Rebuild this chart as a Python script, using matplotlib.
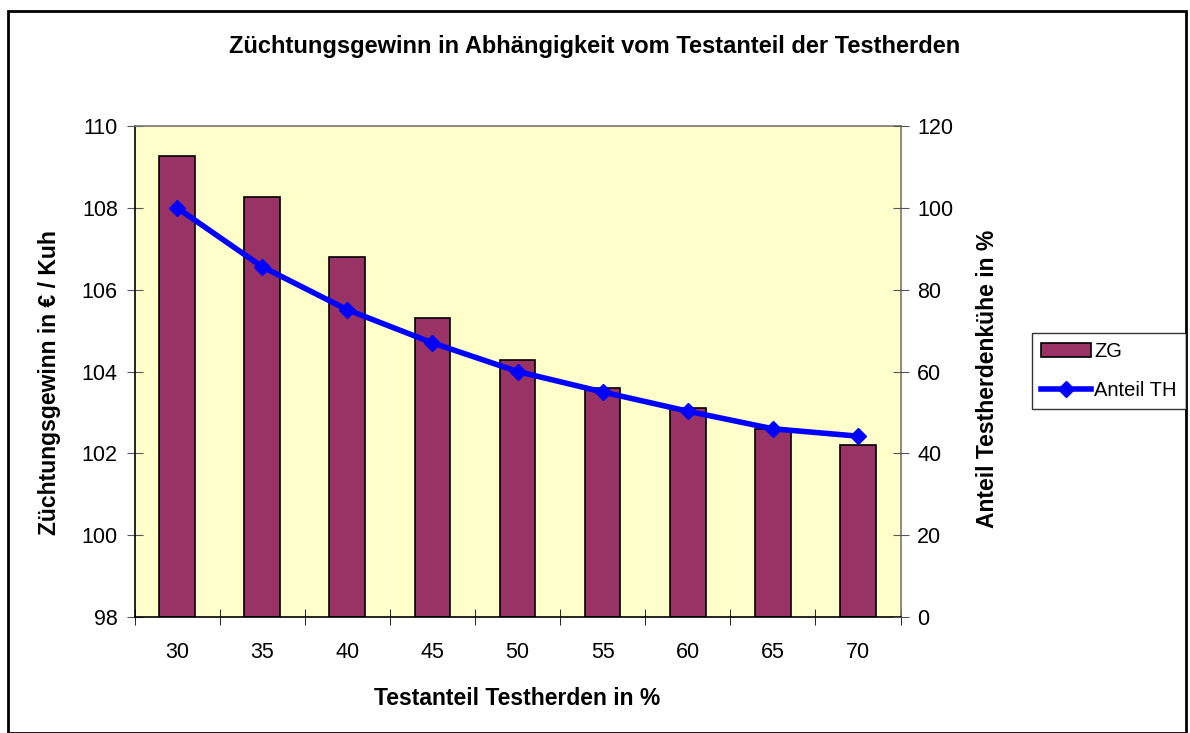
import numpy as np
import matplotlib.pyplot as plt
from matplotlib.patches import Rectangle

plt.rcParams['font.family'] = ['Liberation Sans', 'DejaVu Sans']

# Daten
testanteil = ['30', '35', '40', '45', '50', '55', '60', '65', '70']
zg = [109.27, 108.27, 106.8, 105.3, 104.28, 103.6, 103.12, 102.6, 102.2]
anteil_th = [100, 85.6, 75.1, 67, 60, 55, 50.3, 46, 44.2]

fig = plt.figure(figsize=(11.9, 7.33), dpi=100)
fig.patches.append(Rectangle((8 / 1190, 0), 1178 / 1190, 722 / 733, transform=fig.transFigure,
                             fill=False, edgecolor='black', linewidth=2))

ax = fig.add_axes([134.5 / 1190, 116 / 733, 766 / 1190, 491 / 733])
ax.set_facecolor('#ffffcc')
x = np.arange(len(testanteil))
bars = ax.bar(x, [v - 98 for v in zg], bottom=98, width=0.42, color='#993366',
              edgecolor='black', linewidth=1.2, label='ZG', zorder=2)
ax.set_xlim(-0.5, len(testanteil) - 0.5)
ax.set_ylim(98, 110)
ax.set_yticks(np.arange(98, 111, 2))
ax.set_xticks(x)
ax.set_xticklabels(testanteil)
ax.set_xticks(np.arange(-0.5, len(testanteil), 1), minor=True)
ax.tick_params(axis='x', which='major', length=0, pad=18, labelsize=15.5)
ax.tick_params(axis='x', which='minor', direction='inout', length=12, color='black')
ax.tick_params(axis='y', direction='inout', length=12, color='#555555', labelsize=15.5, pad=6)
ax.spines['top'].set_color('#777777')
ax.spines['right'].set_color('#777777')
for s in ax.spines.values():
    s.set_linewidth(1.2)
ax.set_xlabel('Testanteil Testherden in %', fontsize=16.5, fontweight='bold', labelpad=17)
ax.set_ylabel('Züchtungsgewinn in € / Kuh', fontsize=16.5, fontweight='bold', labelpad=15)
ax.yaxis.label.set_y(0.478)

ax2 = ax.twinx()
line, = ax2.plot(x, anteil_th, color='#0000ff', linewidth=4, marker='D', markersize=8.5,
                 label='Anteil TH', zorder=3)
ax2.set_ylim(0, 120)
ax2.set_yticks(np.arange(0, 121, 20))
ax2.tick_params(axis='y', direction='inout', length=12, color='#555555', labelsize=15.5, pad=6)
ax2.set_ylabel('Anteil Testherdenkühe in %', fontsize=16.5, fontweight='bold', labelpad=16)
ax2.yaxis.label.set_y(0.485)
for s in ax2.spines.values():
    s.set_visible(False)

fig.text(0.5, 0.937, 'Züchtungsgewinn in Abhängigkeit vom Testanteil der Testherden',
         ha='center', va='center', fontsize=17, fontweight='bold')

leg = fig.legend([bars, line], ['ZG', 'Anteil TH'], loc='upper left',
                 bbox_to_anchor=(1032 / 1190, 1 - 333 / 733), fontsize=14.5,
                 frameon=True, fancybox=False, edgecolor='black', handlelength=2.5,
                 borderpad=0.45, labelspacing=1.0, handletextpad=0.15, borderaxespad=0)
leg.get_frame().set_linewidth(1)

fig.savefig('out.png', dpi=100)
